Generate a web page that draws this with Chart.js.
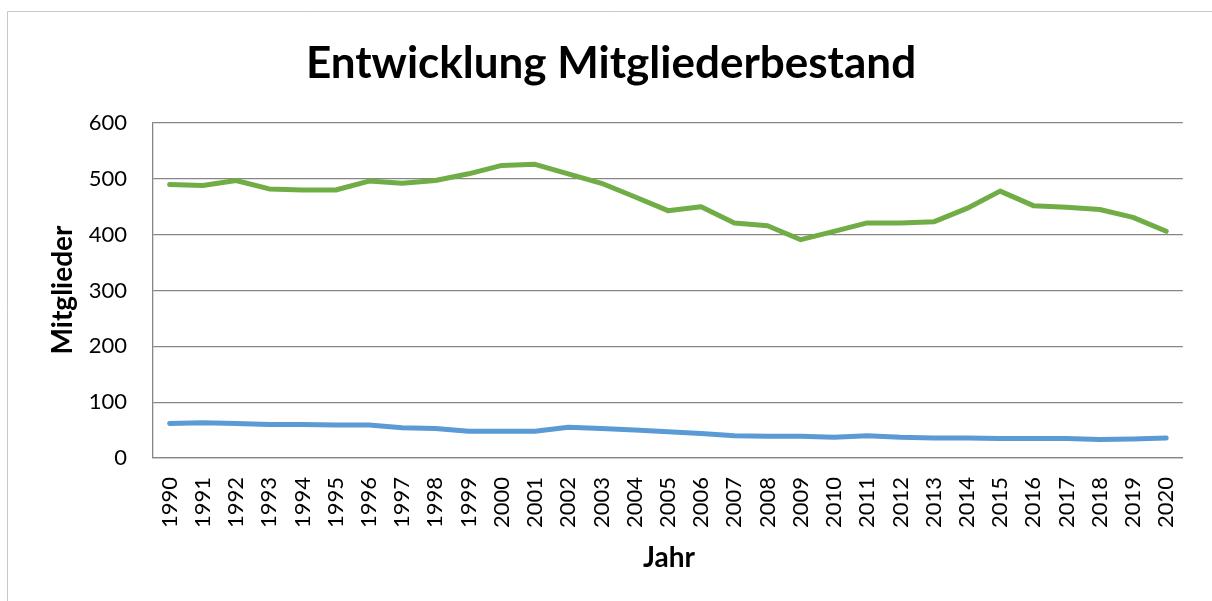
<!DOCTYPE html>
<html><head><meta charset="utf-8">
<script src="https://cdn.jsdelivr.net/npm/chart.js@4.4.0/dist/chart.umd.min.js"></script>
<style>html,body{margin:0;padding:0;background:#fff;}#wrap{position:relative;width:1212px;height:601px;}</style>
</head><body><div id="wrap"><canvas id="c" width="1212" height="601"></canvas></div>
<script>
const titleText = "Entwicklung Mitgliederbestand";
const xTitle = "Jahr";
const yTitle = "Mitglieder";
const years = ["1990","1991","1992","1993","1994","1995","1996","1997","1998","1999","2000","2001","2002","2003","2004","2005","2006","2007","2008","2009","2010","2011","2012","2013","2014","2015","2016","2017","2018","2019","2020"];
const seriesGreen = [490,488,497,482,480,480,496,492,497,509,524,526,509,492,468,443,450,421,416,391,406,421,421,423,447,478,452,449,445,431,406];
const seriesBlue = [62,63,62,60,60,59,59,54,53,48,48,48,55,53,50,47,44,40,39,39,37,40,37,36,36,35,35,35,33,34,36];
const yTicks = [0,100,200,300,400,500,600];

const FONT = "Lato, 'Open Sans', sans-serif";
const deco = {
  id: 'deco',
  beforeDraw(chart) {
    const ctx = chart.ctx;
    ctx.save();
    ctx.fillStyle = '#fff';
    ctx.fillRect(0, 0, chart.width, chart.height);
    ctx.strokeStyle = '#c8c8c8';
    ctx.lineWidth = 1;
    ctx.beginPath();
    ctx.moveTo(7.5, 620); ctx.lineTo(7.5, 11.5); ctx.lineTo(1212, 11.5);
    ctx.stroke();
    ctx.restore();
  },
  afterDraw(chart) {
    const ctx = chart.ctx;
    ctx.save();
    ctx.fillStyle = '#000';
    ctx.textAlign = 'center';
    ctx.textBaseline = 'alphabetic';
    ctx.font = "bold 44px " + FONT;
    ctx.fillText(titleText, 611, 78);
    ctx.font = "bold 28px " + FONT;
    ctx.fillText(xTitle, 669, 567);
    ctx.translate(72, 290);
    ctx.rotate(-Math.PI / 2);
    ctx.fillText(yTitle, 0, 0);
    ctx.restore();
  }
};

new Chart(document.getElementById('c'), {
  type: 'line',
  data: {
    labels: years,
    datasets: [
      { label: 'Mitglieder gesamt', data: seriesGreen, borderColor: '#70ad47', borderWidth: 5, pointRadius: 0, tension: 0, fill: false, borderCapStyle: 'round', borderJoinStyle: 'round' },
      { label: 'Mitglieder Teil', data: seriesBlue, borderColor: '#5b9bd5', borderWidth: 5, pointRadius: 0, tension: 0, fill: false, borderCapStyle: 'round', borderJoinStyle: 'round' }
    ]
  },
  options: {
    responsive: false,
    animation: false,
    devicePixelRatio: 1,
    layout: { padding: { left: 0, right: 25, top: 123, bottom: 0 } },
    plugins: { legend: { display: false }, title: { display: false }, tooltip: { enabled: false } },
    scales: {
      x: {
        offset: true,
        grid: { display: false, drawTicks: false },
        border: { display: true, color: '#868686', width: 1.3 },
        ticks: { minRotation: 90, maxRotation: 90, autoSkip: false, padding: 19, color: '#000', font: { family: FONT, size: 22 } },
        afterFit(s) { s.height = 143; }
      },
      y: {
        min: 0, max: 600,
        afterBuildTicks(s) { s.ticks = yTicks.map(v => ({ value: v })); },
        grid: { color: '#868686', lineWidth: 1.3, drawTicks: false },
        border: { display: true, color: '#868686', width: 1.3 },
        ticks: { padding: 26, color: '#000', font: { family: FONT, size: 22 } },
        afterFit(s) { s.width = 153; }
      }
    }
  },
  plugins: [deco]
});
</script></body></html>
